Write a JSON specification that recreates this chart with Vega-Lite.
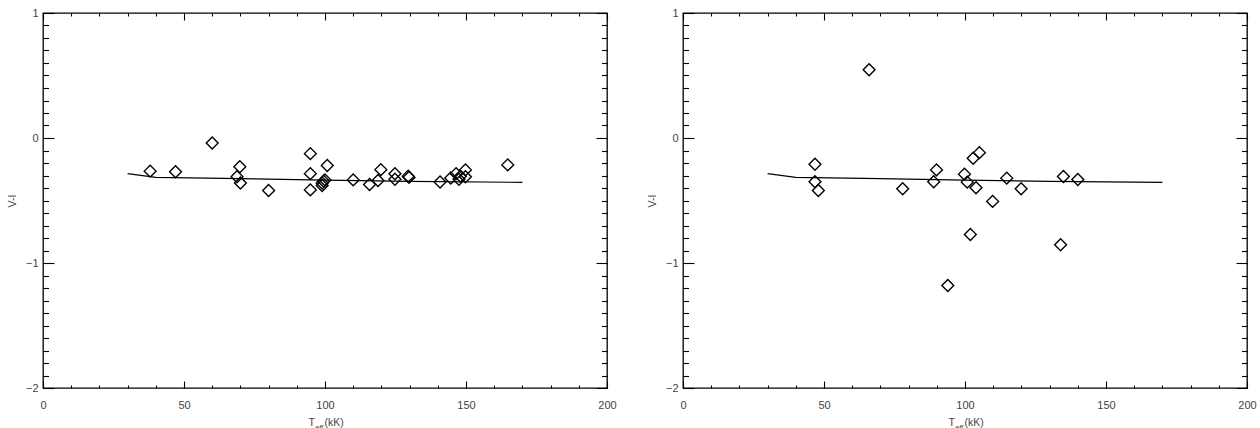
{
  "$schema": "https://vega.github.io/schema/vega-lite/v6.json",
  "padding": {"left": 6, "top": 6, "right": 5, "bottom": 2},
  "background": "white",
  "datasets": {
    "model": [
      {"T": 30, "VI": -0.285}, {"T": 40, "VI": -0.315}, {"T": 70, "VI": -0.325},
      {"T": 100, "VI": -0.337}, {"T": 130, "VI": -0.347}, {"T": 170, "VI": -0.355}
    ],
    "left": [
      {"T": 38, "VI": -0.265}, {"T": 47, "VI": -0.27}, {"T": 60, "VI": -0.04}, {"T": 69.8, "VI": -0.23},
      {"T": 68.8, "VI": -0.31}, {"T": 70, "VI": -0.36}, {"T": 80, "VI": -0.42}, {"T": 94.8, "VI": -0.125},
      {"T": 94.8, "VI": -0.285}, {"T": 94.8, "VI": -0.415}, {"T": 100.8, "VI": -0.22}, {"T": 99, "VI": -0.36},
      {"T": 99.5, "VI": -0.345}, {"T": 100, "VI": -0.335}, {"T": 99, "VI": -0.38}, {"T": 110, "VI": -0.335},
      {"T": 115.8, "VI": -0.372}, {"T": 118.8, "VI": -0.34}, {"T": 119.8, "VI": -0.253}, {"T": 124.8, "VI": -0.286},
      {"T": 124.8, "VI": -0.33}, {"T": 129.5, "VI": -0.305}, {"T": 129.8, "VI": -0.315}, {"T": 140.8, "VI": -0.352},
      {"T": 144.6, "VI": -0.32}, {"T": 146.5, "VI": -0.285}, {"T": 147.5, "VI": -0.33}, {"T": 148, "VI": -0.305},
      {"T": 149.8, "VI": -0.255}, {"T": 149.8, "VI": -0.31}, {"T": 164.8, "VI": -0.215}
    ],
    "right": [
      {"T": 66, "VI": 0.546}, {"T": 46.8, "VI": -0.21}, {"T": 46.8, "VI": -0.35}, {"T": 48, "VI": -0.42},
      {"T": 77.9, "VI": -0.406}, {"T": 88.9, "VI": -0.35}, {"T": 89.9, "VI": -0.255}, {"T": 99.8, "VI": -0.289},
      {"T": 100.8, "VI": -0.353}, {"T": 102.9, "VI": -0.162}, {"T": 105.1, "VI": -0.117}, {"T": 103.9, "VI": -0.398},
      {"T": 101.9, "VI": -0.772}, {"T": 93.9, "VI": -1.18}, {"T": 109.8, "VI": -0.507}, {"T": 114.8, "VI": -0.321},
      {"T": 119.9, "VI": -0.406}, {"T": 134.9, "VI": -0.308}, {"T": 140, "VI": -0.332}, {"T": 133.9, "VI": -0.854}
    ]
  },
  "spacing": 29,
  "hconcat": [
    {
      "width": 564, "height": 375,
      "layer": [
        {
          "data": {"name": "model"},
          "mark": {"type": "line", "color": "black", "strokeWidth": 1.2},
          "encoding": {
            "x": {"field": "T", "type": "quantitative", "scale": {"domain": [0, 200], "nice": false},
                  "axis": {"orient": "bottom", "values": [0, 50, 100, 150, 200], "tickSize": -7, "labelPadding": 18, "labelFlush": false,
                           "title": "T", "titleAlign": "left", "titleBaseline": "top", "titleX": 265, "titleY": 29}},
            "y": {"field": "VI", "type": "quantitative", "scale": {"domain": [-2, 1], "nice": false, "zero": false},
                  "axis": {"orient": "left", "values": [-2, -1, 0, 1], "tickSize": -11, "labelPadding": 16, "labelFlush": false,
                           "title": "V-I", "titleX": -26, "titleY": 187.5, "titleAlign": "center", "titleBaseline": "bottom"}}
          }
        },
        {
          "data": {"name": "left"},
          "mark": {"type": "point", "shape": "diamond", "filled": false, "size": 140, "stroke": "black", "strokeWidth": 1.4, "opacity": 1},
          "encoding": {
            "x": {"field": "T", "type": "quantitative", "scale": {"domain": [0, 200], "nice": false},
                  "axis": {"orient": "bottom", "values": [10, 20, 30, 40, 60, 70, 80, 90, 110, 120, 130, 140, 160, 170, 180, 190], "tickSize": -3, "labels": false,
                           "title": "eff", "titleFontSize": 7, "titleAlign": "left", "titleBaseline": "top", "titleX": 272, "titleY": 35}},
            "y": {"field": "VI", "type": "quantitative", "scale": {"domain": [-2, 1], "nice": false, "zero": false},
                  "axis": {"orient": "left", "values": [-1.9, -1.8, -1.7, -1.6, -1.5, -1.4, -1.3, -1.2, -1.1, -0.9, -0.8, -0.7, -0.6, -0.5, -0.4, -0.3, -0.2, -0.1, 0.1, 0.2, 0.3, 0.4, 0.5, 0.6, 0.7, 0.8, 0.9], "tickSize": -5.5, "labels": false, "title": null}}
          }
        },
        {
          "data": {"name": "model"},
          "mark": {"type": "line", "opacity": 0},
          "encoding": {
            "x": {"field": "T", "type": "quantitative", "scale": {"domain": [0, 200], "nice": false},
                  "axis": {"orient": "top", "values": [0, 50, 100, 150, 200], "tickSize": -7, "labels": false,
                           "title": "(kK)", "titleAlign": "left", "titleBaseline": "top", "titleX": 281, "titleY": 404}},
            "y": {"field": "VI", "type": "quantitative", "scale": {"domain": [-2, 1], "nice": false, "zero": false},
                  "axis": {"orient": "right", "values": [-2, -1, 0, 1], "tickSize": -11, "labels": false, "title": null}}
          }
        },
        {
          "data": {"name": "model"},
          "mark": {"type": "line", "opacity": 0},
          "encoding": {
            "x": {"field": "T", "type": "quantitative", "scale": {"domain": [0, 200], "nice": false},
                  "axis": {"orient": "top", "values": [10, 20, 30, 40, 60, 70, 80, 90, 110, 120, 130, 140, 160, 170, 180, 190], "tickSize": -3, "labels": false, "title": null}},
            "y": {"field": "VI", "type": "quantitative", "scale": {"domain": [-2, 1], "nice": false, "zero": false},
                  "axis": {"orient": "right", "values": [-1.9, -1.8, -1.7, -1.6, -1.5, -1.4, -1.3, -1.2, -1.1, -0.9, -0.8, -0.7, -0.6, -0.5, -0.4, -0.3, -0.2, -0.1, 0.1, 0.2, 0.3, 0.4, 0.5, 0.6, 0.7, 0.8, 0.9], "tickSize": -5.5, "labels": false, "title": null}}
          }
        }
      ],
      "resolve": {"axis": {"x": "independent", "y": "independent"}}
    },
    {
      "width": 564, "height": 375,
      "layer": [
        {
          "data": {"name": "model"},
          "mark": {"type": "line", "color": "black", "strokeWidth": 1.2},
          "encoding": {
            "x": {"field": "T", "type": "quantitative", "scale": {"domain": [0, 200], "nice": false},
                  "axis": {"orient": "bottom", "values": [0, 50, 100, 150, 200], "tickSize": -7, "labelPadding": 18, "labelFlush": false,
                           "title": "T", "titleAlign": "left", "titleBaseline": "top", "titleX": 265, "titleY": 29}},
            "y": {"field": "VI", "type": "quantitative", "scale": {"domain": [-2, 1], "nice": false, "zero": false},
                  "axis": {"orient": "left", "values": [-2, -1, 0, 1], "tickSize": -11, "labelPadding": 16, "labelFlush": false,
                           "title": "V-I", "titleX": -26, "titleY": 187.5, "titleAlign": "center", "titleBaseline": "bottom"}}
          }
        },
        {
          "data": {"name": "right"},
          "mark": {"type": "point", "shape": "diamond", "filled": false, "size": 140, "stroke": "black", "strokeWidth": 1.4, "opacity": 1},
          "encoding": {
            "x": {"field": "T", "type": "quantitative", "scale": {"domain": [0, 200], "nice": false},
                  "axis": {"orient": "bottom", "values": [10, 20, 30, 40, 60, 70, 80, 90, 110, 120, 130, 140, 160, 170, 180, 190], "tickSize": -3, "labels": false,
                           "title": "eff", "titleFontSize": 7, "titleAlign": "left", "titleBaseline": "top", "titleX": 272, "titleY": 35}},
            "y": {"field": "VI", "type": "quantitative", "scale": {"domain": [-2, 1], "nice": false, "zero": false},
                  "axis": {"orient": "left", "values": [-1.9, -1.8, -1.7, -1.6, -1.5, -1.4, -1.3, -1.2, -1.1, -0.9, -0.8, -0.7, -0.6, -0.5, -0.4, -0.3, -0.2, -0.1, 0.1, 0.2, 0.3, 0.4, 0.5, 0.6, 0.7, 0.8, 0.9], "tickSize": -5.5, "labels": false, "title": null}}
          }
        },
        {
          "data": {"name": "model"},
          "mark": {"type": "line", "opacity": 0},
          "encoding": {
            "x": {"field": "T", "type": "quantitative", "scale": {"domain": [0, 200], "nice": false},
                  "axis": {"orient": "top", "values": [0, 50, 100, 150, 200], "tickSize": -7, "labels": false,
                           "title": "(kK)", "titleAlign": "left", "titleBaseline": "top", "titleX": 281, "titleY": 404}},
            "y": {"field": "VI", "type": "quantitative", "scale": {"domain": [-2, 1], "nice": false, "zero": false},
                  "axis": {"orient": "right", "values": [-2, -1, 0, 1], "tickSize": -11, "labels": false, "title": null}}
          }
        },
        {
          "data": {"name": "model"},
          "mark": {"type": "line", "opacity": 0},
          "encoding": {
            "x": {"field": "T", "type": "quantitative", "scale": {"domain": [0, 200], "nice": false},
                  "axis": {"orient": "top", "values": [10, 20, 30, 40, 60, 70, 80, 90, 110, 120, 130, 140, 160, 170, 180, 190], "tickSize": -3, "labels": false, "title": null}},
            "y": {"field": "VI", "type": "quantitative", "scale": {"domain": [-2, 1], "nice": false, "zero": false},
                  "axis": {"orient": "right", "values": [-1.9, -1.8, -1.7, -1.6, -1.5, -1.4, -1.3, -1.2, -1.1, -0.9, -0.8, -0.7, -0.6, -0.5, -0.4, -0.3, -0.2, -0.1, 0.1, 0.2, 0.3, 0.4, 0.5, 0.6, 0.7, 0.8, 0.9], "tickSize": -5.5, "labels": false, "title": null}}
          }
        }
      ],
      "resolve": {"axis": {"x": "independent", "y": "independent"}}
    }
  ],
  "config": {
    "view": {"stroke": "black", "strokeWidth": 1.3},
    "axis": {
      "domain": false, "grid": false, "ticks": true,
      "tickColor": "black", "tickWidth": 1.1,
      "labelFont": "Liberation Sans", "labelFontSize": 11, "labelColor": "#444",
      "titleFont": "Liberation Sans", "titleFontSize": 10.5, "titleFontWeight": "normal", "titleColor": "#444"
    }
  }
}
